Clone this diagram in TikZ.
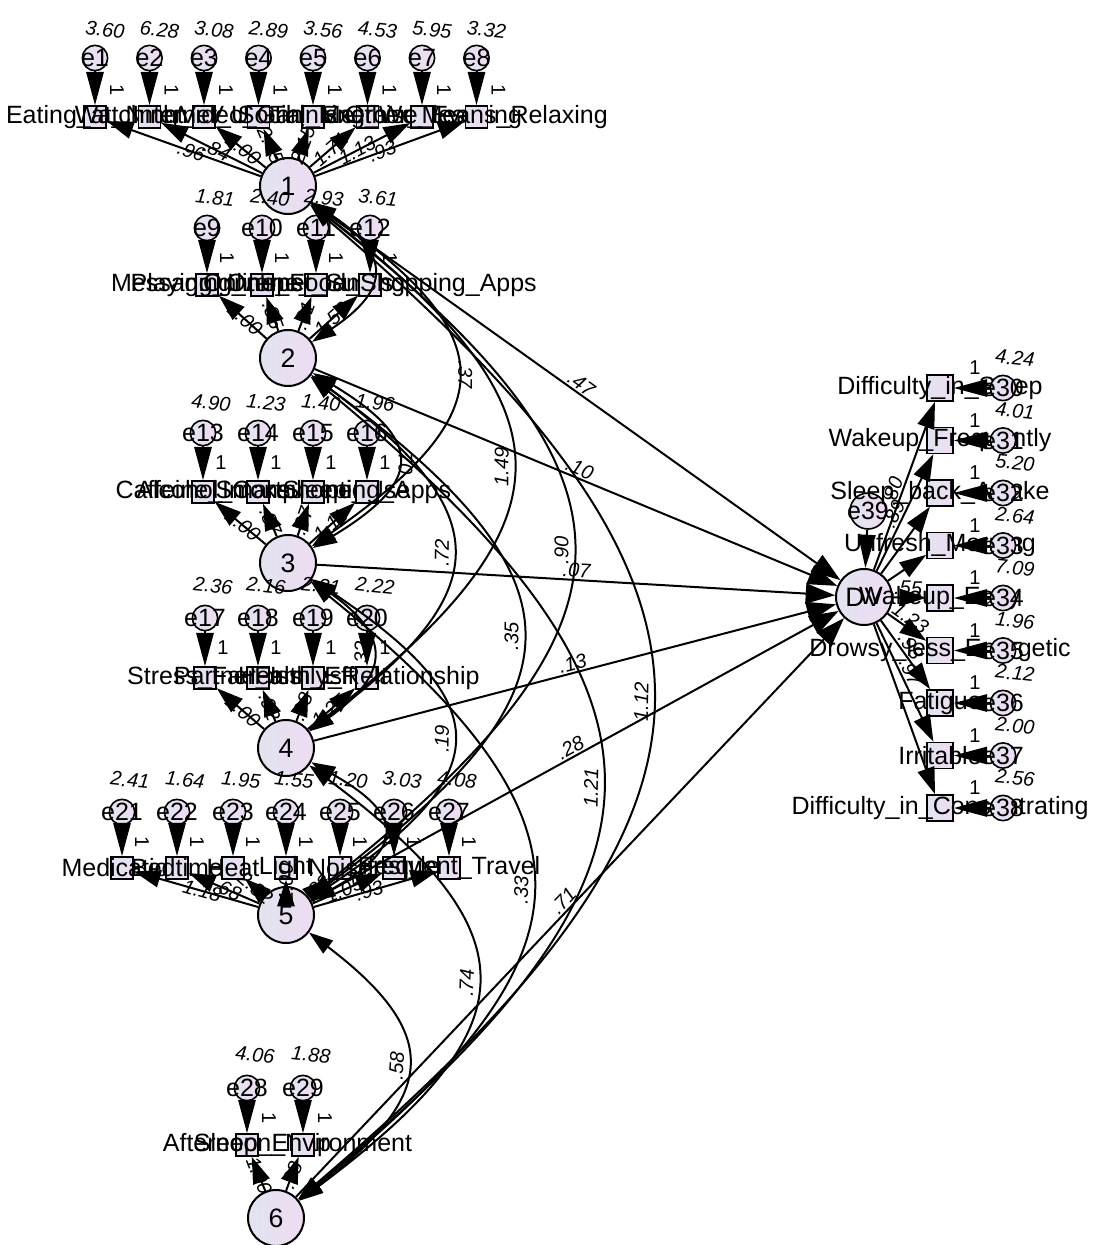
\documentclass[tikz,border=0pt]{standalone}
\usepackage{fontspec}
\setmainfont{Liberation Sans}
\usepackage{tikz}
\usetikzlibrary{shapes,arrows,arrows.meta}

\definecolor{amosleft}{RGB}{226,228,240}
\definecolor{amosright}{RGB}{238,220,242}

\tikzstyle{latent} = [draw, line width=1.5pt, circle, left color=amosleft, right color=amosright,
    minimum size=42pt, inner sep=0pt, font=\fontsize{20}{20}\selectfont]
\tikzstyle{errvar} = [draw, line width=1.2pt, circle, left color=amosleft, right color=amosright,
    minimum size=19pt, inner sep=0pt]
\tikzstyle{bigerr} = [errvar, minimum size=27pt]
\tikzstyle{indicator} = [draw, line width=1.2pt, rectangle, left color=amosleft, right color=amosright,
    minimum size=16.5pt, inner sep=0pt]
\tikzstyle{bigind} = [indicator, minimum size=19.5pt]
\tikzstyle{vartext} = [inner sep=0pt, font=\fontsize{18.75}{18.75}\selectfont]
\tikzstyle{estimate} = [inner sep=1pt, font=\fontsize{15}{15}\selectfont\itshape]
\tikzstyle{fixed} = [inner sep=0pt, font=\fontsize{15}{15}\selectfont]
\tikzstyle{loading} = [line width=1.5pt, -{Triangle[length=20pt,width=13pt]}]
\tikzstyle{errpath} = [line width=1.5pt, -{Triangle[length=25pt,width=13pt]}]
\tikzstyle{covar} = [line width=1.5pt, {Triangle[length=18pt,width=12pt]}-{Triangle[length=18pt,width=12pt]}]

\begin{document}
\begin{tikzpicture}[x=0.75pt, y=-0.75pt, >=latex']
    \useasboundingbox (0,0) rectangle (1109,1245);
    % We start by placing the six factors and the DV
    \node [latent] (f1) at (288,186) {1};
    \node [latent] (f2) at (288,358) {2};
    \node [latent] (f3) at (288,563) {3};
    \node [latent] (f4) at (286,748) {4};
    \node [latent] (f5) at (286,915) {5};
    \node [latent] (f6) at (276,1218) {6};
    \node [latent] (dv) at (864,597) {DV};
    \node [bigerr] (e39) at (868,511) {};
    \node [vartext] at (e39) {e39};
    \draw [errpath] (e39) -- (dv);

    % Indicators of factor 1
    \foreach \i/\x/\txt/\vr/\ld in {1/95/Eating\_at\_Night/3.60/.96, 2/149.5/Watching\_TV/6.28/.84,
        3/204/Internet\_Use/3.08/1.00, 4/258.5/Video\_Games/2.89/2.45, 5/313/Social\_Media/3.56/2.15,
        6/367.5/Thinking\_Worries/4.53/1.71, 7/422/Exercise\_Evening/5.95/1.13,
        8/476.5/Other\_Means\_Relaxing/3.32/.93} {
        \node [errvar] (e\i) at (\x,58) {};
        \node [vartext] at (e\i) {e\i};
        \node [estimate, rotate=-6] at (\x+10,30) {\vr};
        \node [indicator] (v\i) at (\x,117) {};
        \node [vartext] at (v\i) {\txt};
        \node [fixed, rotate=-90] at (\x+22,90) {1};
        \draw [errpath] (e\i) -- (v\i);
        \draw [loading] (f1) -- node[estimate, sloped, pos=0.45] {\ld} (v\i);
    }
    % Indicators of factor 2
    \foreach \i/\x/\txt/\vr/\ld in {9/207/Messaging\_Apps/1.81/1.00, 10/262/Playing\_Online\_Games/2.40/.85,
        11/316/Internet\_Surfing/2.93/.81, 12/370/Online\_Food\_Shopping\_Apps/3.61/1.58} {
        \node [errvar] (e\i) at (\x,228) {};
        \node [vartext] at (e\i) {e\i};
        \node [estimate, rotate=-6] at (\x+8,198) {\vr};
        \node [indicator] (v\i) at (\x,285) {};
        \node [vartext] at (v\i) {\txt};
        \node [fixed, rotate=-90] at (\x+20,258) {1};
        \draw [errpath] (e\i) -- (v\i);
        \draw [loading] (f2) -- node[estimate, sloped, pos=0.45] {\ld} (v\i);
    }
    % Indicators of factor 3
    \foreach \i/\x/\txt/\vr/\ld in {13/203/Caffeine\_Intake/4.90/1.00, 14/258/Alcohol\_Consumption/1.23/.87,
        15/313/Smartphone\_Use/1.40/.67, 16/367/Sleeping\_Apps/1.96/1.11} {
        \node [errvar] (e\i) at (\x,433) {};
        \node [vartext] at (e\i) {e\i};
        \node [estimate, rotate=-6] at (\x+8,403) {\vr};
        \node [indicator] (v\i) at (\x,492) {};
        \node [vartext] at (v\i) {\txt};
        \node [fixed] at (\x+18,463) {1};
        \draw [errpath] (e\i) -- (v\i);
        \draw [loading] (f3) -- node[estimate, sloped, pos=0.45] {\ld} (v\i);
    }
    % Indicators of factor 4
    \foreach \i/\x/\txt/\vr/\ld in {17/205/Stress\_Factor/2.36/1.00, 18/258/Partner\_Issues/2.16/.92,
        19/313/Health\_Effect/2.31/.98, 20/367/Family\_Relationship/2.22/1.25} {
        \node [errvar] (e\i) at (\x,618) {};
        \node [vartext] at (e\i) {e\i};
        \node [estimate, rotate=-6] at (\x+8,586) {\vr};
        \node [indicator] (v\i) at (\x,678) {};
        \node [vartext] at (v\i) {\txt};
        \node [fixed] at (\x+18,648) {1};
        \draw [errpath] (e\i) -- (v\i);
        \draw [loading] (f4) -- node[estimate, sloped, pos=0.45] {\ld} (v\i);
    }
    % Indicators of factor 5
    \foreach \i/\x/\txt/\vr/\ld in {21/122/Medication/2.41/1.18, 22/177/Bedtime/1.64/.68,
        23/233/Heat/1.95/2.82, 24/286/Light/1.55/1.00, 25/340/Noise/1.20/.83,
        26/394/Lifestyle/3.03/1.05, 27/449/Frequent\_Travel/4.08/.93} {
        \node [errvar] (e\i) at (\x,812) {};
        \node [vartext] at (e\i) {e\i};
        \node [estimate, rotate=-6] at (\x+8,780) {\vr};
        \node [indicator] (v\i) at (\x,868) {};
        \node [vartext] at (v\i) {\txt};
        \node [fixed, rotate=-90] at (\x+20,842) {1};
        \draw [errpath] (e\i) -- (v\i);
        \draw [loading] (f5) -- node[estimate, sloped, pos=0.45] {\ld} (v\i);
    }
    % Indicators of factor 6
    \foreach \i/\x/\txt/\vr/\ld in {28/247/Afternoon\_Nap/4.06/1.00, 29/303/Sleep\_Environment/1.88/.98} {
        \node [errvar] (e\i) at (\x,1088) {};
        \node [vartext] at (e\i) {e\i};
        \node [estimate, rotate=-6] at (\x+8,1055) {\vr};
        \node [indicator] (v\i) at (\x,1145) {};
        \node [vartext] at (v\i) {\txt};
        \node [fixed, rotate=-90] at (\x+22,1118) {1};
        \draw [errpath] (e\i) -- (v\i);
        \draw [loading] (f6) -- node[estimate, sloped, pos=0.45] {\ld} (v\i);
    }

    % Indicators of the DV on the right
    \foreach \i/\y/\txt/\vr in {30/388/Difficulty\_in\_Sleep/4.24, 31/440.5/Wakeup\_Frequently/4.01,
        32/493/Sleep\_back\_Awake/5.20, 33/545.5/Unfresh\_Morning/2.64, 34/598/Wakeup\_Early/7.09,
        35/650.5/Drowsy\_less\_Energetic/1.96, 36/703/Fatigue/2.12, 37/755.5/Irritable/2.00,
        38/808/Difficulty\_in\_Concentrating/2.56} {
        \node [bigind] (v\i) at (940,\y) {};
        \node [vartext] at (v\i) {\txt};
        \node [errvar] (e\i) at (1003,\y) {};
        \node [vartext] at (e\i) {e\i};
        \node [fixed] at (975,\y-20) {1};
        \node [estimate, rotate=-6] at (1015,\y-30) {\vr};
        \draw [errpath] (e\i) -- (v\i);
    }
    \foreach \i/\ld in {30/.80, 31/.89, 32/, 33/, 34/.55, 35/1.23, 36/.98, 37/.97, 38/}
        \draw [loading] (dv) -- node[estimate, sloped, pos=0.45, above] {\ld} (v\i);

    % Paths from the factors to the DV
    \foreach \a/\c in {1/.47, 2/.10, 3/.07, 4/.13, 5/.28, 6/.71}
        \draw [loading, -{Triangle[length=22pt,width=15pt]}] (f\a) -- node[estimate, sloped, above] {\c} (dv);

    % Covariances between the factors
    \foreach \a/\b/\dx/\dy/\c in {1/2/103/69/, 1/3/216/151/.37, 1/4/291/225/1.49, 1/5/371/292/.90,
        1/6/484/413/1.12, 2/3/136/82/.70, 2/4/211/156/.72, 2/5/304/223/.35, 2/6/417/344/1.21,
        3/4/104/74/.32, 3/5/211/141/.19, 3/6/324/262/.33, 4/5/119/67/.76, 4/6/252/188/.74,
        5/6/159/121/.58}
        \draw [covar] (f\a) .. controls +(\dx,\dy) and +(\dx,-\dy) .. (f\b)
            node[estimate, sloped, midway, above] {\c};
\end{tikzpicture}
\end{document}
